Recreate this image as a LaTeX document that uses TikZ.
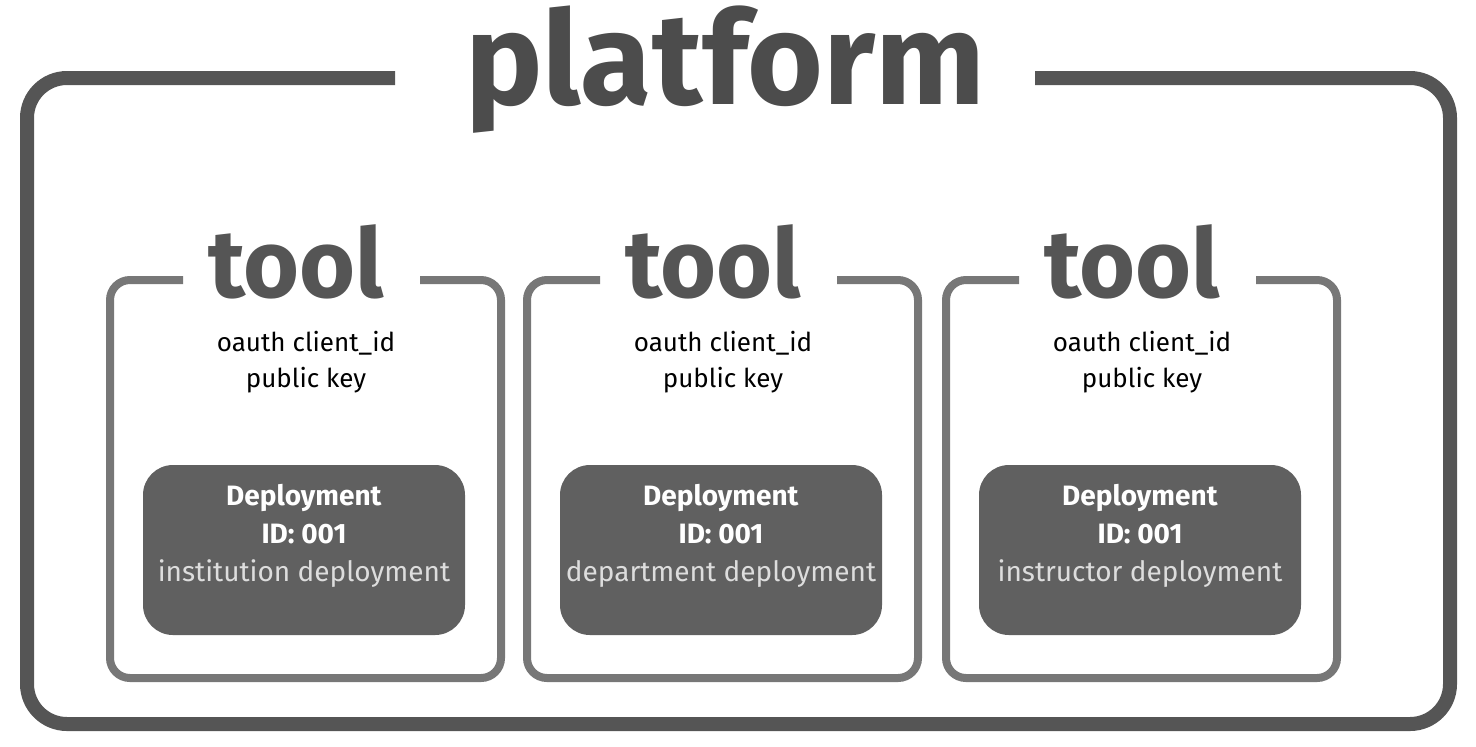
\documentclass[tikz,border=0pt]{standalone}
\usepackage{fontspec}
\setmainfont{Fira Sans}
\usetikzlibrary{positioning}
\definecolor{frame}{HTML}{555555}
\definecolor{toolgray}{HTML}{777777}
\definecolor{depfill}{HTML}{606060}
\definecolor{deptext}{HTML}{DDDDDD}

\begin{document}
\begin{tikzpicture}[x=0.5pt, y=-0.5pt,
    title/.style={font=\fontsize{65}{66}\selectfont\bfseries, text=frame!90!black},
    tooltitle/.style={font=\fontsize{48}{50}\selectfont\bfseries, text=frame},
    keys/.style={font=\fontsize{13}{18}\selectfont, align=center},
    depbox/.style={fill=depfill, rounded corners=15pt, minimum width=161pt, minimum height=85pt},
    deplabel/.style={font=\fontsize{14}{19}\selectfont, text=white, align=center}
]
    \useasboundingbox (0,0) rectangle (1476,746);
    % outer platform frame
    \node[title] (platform) at (725,70) {platform};
    \draw[frame, line width=7pt, rounded corners=20pt]
        (395,78) -- (27,78) -- (27,724) -- (1450,724) -- (1450,78) -- (1035,78);
    % tools
    \foreach \x/\kind [count=\i] in {110/institution, 527/department, 946/instructor} {
        \draw[toolgray, line width=4pt, rounded corners=10pt]
            (\x+73,280) -- (\x,280) -- (\x,678) -- (\x+391,678) -- (\x+391,280) -- (\x+310,280);
        \node[tooltitle] (tool\i) at (\x+186,262) {tool};
        \node[keys] (keys\i) at (\x+196,362) {oauth client\_id\\public key};
        \node[depbox] (dep\i) at (\x+194,550) {};
        \node[deplabel] (deplabel\i) at (\x+194,536)
            {\textbf{Deployment}\\\textbf{ID: 001}\\\textcolor{deptext}{\kind\ deployment}};
    }
\end{tikzpicture}
\end{document}
